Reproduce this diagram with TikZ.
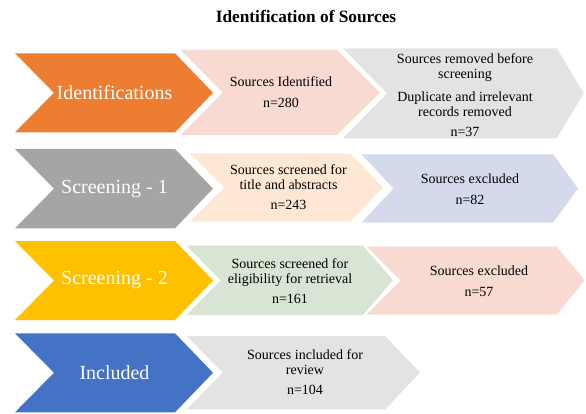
\documentclass[tikz,border=0pt]{standalone}
\usepackage{fontspec}
\setmainfont{Liberation Serif}
\definecolor{stageOrange}{HTML}{ED7D31}
\definecolor{stageGray}{HTML}{A5A5A5}
\definecolor{stageGold}{HTML}{FFC000}
\definecolor{stageBlue}{HTML}{4472C4}
\definecolor{boxPink}{HTML}{F8DAD2}
\definecolor{boxGray}{HTML}{E3E3E3}
\definecolor{boxPeach}{HTML}{FEE8D3}
\definecolor{boxLavender}{HTML}{D5D9EC}
\definecolor{boxGreen}{HTML}{D9E5D4}
% chevron: fill, left x, notch depth, top-right x, tip depth, top y, bottom y
\newcommand\chevshape[7]{%
  \fill[#1] (#2,#6) -- (#4,#6) -- ({#4+#5},{(#6+#7)/2}) -- (#4,#7) -- (#2,#7)
    -- ({#2+#3},{(#6+#7)/2}) -- cycle;}
\begin{document}
\begin{tikzpicture}[x=1pt,y=-1pt,
  stagelabel/.style={text=white,font=\fontsize{20}{24}\selectfont,inner sep=0pt},
  boxtext/.style={text=black,font=\fontsize{14}{15}\selectfont,align=center,inner sep=0pt},
  titletext/.style={font=\fontsize{17.3}{20}\selectfont\bfseries,inner sep=0pt}]
\useasboundingbox (0,0) rectangle (586,414);

\node[titletext] (title) at (306,17) {Identification of Sources};

% row 1
\chevshape{stageOrange}{15}{39}{175}{38}{53.3}{132.3}
\chevshape{boxPink}{180.7}{42}{337}{43}{50}{135}
\chevshape{boxGray}{343}{44}{556.7}{27}{48.3}{138.3}
\node[stagelabel] (ident) at (114.5,92.8) {Identifications};
\node[boxtext] (found) at (281,92.5) {Sources Identified\\[6pt]n=280};
\node[boxtext] (dupes) at (465,95) {Sources removed before\\screening\\[8pt]Duplicate and irrelevant\\records removed\\[5pt]n=37};

% row 2
\chevshape{stageGray}{15}{39}{175}{38}{149}{228.3}
\chevshape{boxPeach}{190}{34}{350}{33}{153.3}{221.7}
\chevshape{boxLavender}{361.5}{32}{553}{25}{154.3}{222.7}
\node[stagelabel] (scrA) at (114.5,188.7) {Screening - 1};
\node[boxtext] (titles) at (288.5,187.5) {Sources screened for\\title and abstracts\\[5pt]n=243};
\node[boxtext] (exclA) at (470,189) {Sources excluded\\[6pt]n=82};

% row 3
\chevshape{stageGold}{15}{39}{175}{38}{241}{320}
\chevshape{boxGreen}{186.7}{34}{363}{30}{245.7}{315}
\chevshape{boxPink}{366.7}{34}{556.7}{28}{246.5}{314.5}
\node[stagelabel] (scrB) at (114.5,280.5) {Screening - 2};
\node[boxtext] (elig) at (290,281) {Sources screened for\\eligibility for retrieval\\[5pt]n=161};
\node[boxtext] (exclB) at (479,281) {Sources excluded\\[6pt]n=57};

% row 4
\chevshape{stageBlue}{15}{39}{175}{38}{333.3}{412.3}
\chevshape{boxGray}{186.7}{36}{385}{35}{336}{409.3}
\node[stagelabel] (incl) at (114.5,372.8) {Included};
\node[boxtext] (final) at (305,372.5) {Sources included for\\review\\[5pt]n=104};
\end{tikzpicture}
\end{document}
